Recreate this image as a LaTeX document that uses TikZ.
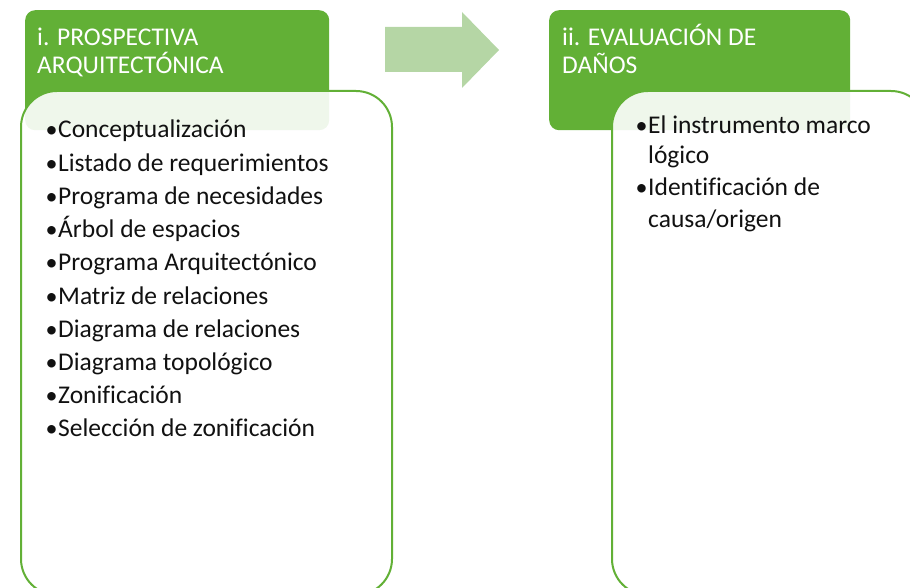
\documentclass[tikz,border=0pt]{standalone}
\usepackage{fontspec}
\setmainfont{Carlito}[Ligatures=CommonOff]
\definecolor{hdr}{HTML}{62B036}
\definecolor{arr}{HTML}{B5D6A5}
\definecolor{txt}{HTML}{111111}
\begin{document}
\begin{tikzpicture}[x=1pt,y=-1pt,
  header/.style={fill=hdr, draw=none, rounded corners=10pt, anchor=north west, inner sep=0pt},
  panel/.style={draw=hdr, line width=2pt, fill=white, fill opacity=0.9, rounded corners=36pt, anchor=north west, inner sep=0pt},
  htext/.style={text=white, font=\fontsize{25.5}{30}\selectfont, anchor=base west, inner sep=0pt},
  item/.style={text=txt, font=\fontsize{25.5}{30}\selectfont, anchor=base west, inner sep=0pt},
  bul/.style={text=txt, font=\fontsize{24}{30}\selectfont, anchor=base west, inner sep=0pt}]
\useasboundingbox (0,0) rectangle (910,588);
\clip (0,0) rectangle (910,588);
% arrow
\fill[arr] (385,27) -- (462,27) -- (462,12) -- (499,50) -- (462,88) -- (462,72) -- (385,72) -- cycle;
% left
\node[header, minimum width=304pt, minimum height=120pt] (h1) at (25,10) {};
\node[htext] (h1a) at (37,46) {i. PROSPECTIVA};
\node[htext] (h1b) at (37,74) {ARQUITECTÓNICA};
\node[panel, minimum width=371pt, minimum height=504pt] (p1) at (20,90) {};
\foreach \t [count=\i from 0] in {Conceptualización, Listado de requerimientos, Programa de necesidades, Árbol de espacios, Programa Arquitectónico, Matriz de relaciones, Diagrama de relaciones, Diagrama topológico, Zonificación, Selección de zonificación}{
  \node[bul] (b\i) at (45.5,138+33.2*\i) {•};
  \node[item] (l\i) at (58,138+33.2*\i) {\t};
}
% right
\node[header, minimum width=301pt, minimum height=120pt] (h2) at (549,10) {};
\node[htext] (h2a) at (562,46) {ii. EVALUACIÓN DE};
\node[htext] (h2b) at (562,74) {DAÑOS};
\node[panel, minimum width=315pt, minimum height=504pt] (p2) at (611,90) {};
\node[bul] (rb1) at (635.5,134) {•};
\node[item] (r1a) at (648,134) {El instrumento marco};
\node[item] (r1b) at (648,164) {lógico};
\node[bul] (rb2) at (635.5,196) {•};
\node[item] (r2a) at (648,196) {Identificación de};
\node[item] (r2b) at (648,228) {causa/origen};
\end{tikzpicture}
\end{document}
